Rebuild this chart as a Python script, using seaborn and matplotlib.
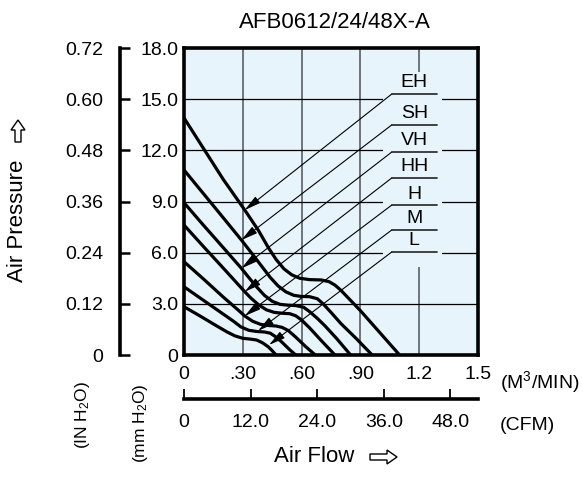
import numpy as np
import matplotlib
matplotlib.use("Agg")
import matplotlib.pyplot as plt
import matplotlib.patches as mpatches
import seaborn as sns

# Fan performance curves (x: air flow M3/MIN, y: pressure mmH2O)
eh_x = [0, .10, .20, .31, .38, .43, .47, .51, .55, .59, .64, .70, .74, .77, .80, .85, .90, 1.00, 1.10]
eh_y = [13.9, 12.1, 10.3, 8.5, 7.3, 6.3, 5.6, 5.05, 4.7, 4.5, 4.42, 4.4, 4.3, 4.1, 3.8, 3.2, 2.6, 1.3, 0]
sh_x = [0, .10, .20, .293, .35, .40, .44, .48, .52, .56, .60, .64, .68, .71, .75, .80, .88, .96]
sh_y = [10.85, 9.45, 8.05, 6.74, 5.9, 5.15, 4.55, 4.05, 3.7, 3.5, 3.43, 3.42, 3.3, 3.0, 2.5, 1.85, 0.95, 0]
vh_x = [0, .10, .20, .293, .33, .37, .41, .45, .49, .53, .57, .61, .64, .68, .72, .78, .85]
vh_y = [8.93, 7.6, 6.3, 5.08, 4.55, 4.0, 3.5, 3.15, 2.97, 2.92, 2.9, 2.8, 2.55, 2.15, 1.7, 0.95, 0]
hh_x = [0, .10, .20, .31, .34, .38, .42, .46, .50, .54, .57, .60, .64, .70, .77]
hh_y = [7.62, 6.35, 5.1, 3.71, 3.35, 2.95, 2.65, 2.5, 2.45, 2.42, 2.3, 2.05, 1.6, 0.85, 0]
h_x = [0, .10, .20, .27, .31, .35, .39, .43, .47, .50, .53, .57, .62, .67]
h_y = [5.47, 4.45, 3.4, 2.7, 2.29, 1.98, 1.8, 1.73, 1.7, 1.62, 1.45, 1.05, 0.5, 0]
m_x = [0, .10, .20, .25, .29, .33, .37, .41, .44, .47, .50, .54, .57]
m_y = [4.0, 3.2, 2.4, 2.0, 1.65, 1.45, 1.38, 1.35, 1.28, 1.05, 0.75, 0.3, 0]
l_x = [0, .08, .16, .22, .26, .30, .34, .37, .40, .43, .45, .47]
l_y = [2.83, 2.3, 1.75, 1.35, 1.12, 0.98, 0.93, 0.88, 0.72, 0.48, 0.25, 0]

speed_names = ["EH", "SH", "VH", "HH", "H", "M", "L"]
# where each label's leader arrow points on its curve
tip_x = [0.31, 0.293, 0.293, 0.31, 0.31, 0.378, 0.434]
tip_y = [8.5, 6.74, 5.08, 3.71, 2.29, 1.42, 0.59]

flow_ticks = [0, 0.3, 0.6, 0.9, 1.2, 1.5]
flow_labels = ["0", ".30", ".60", ".90", "1.2", "1.5"]
mm_ticks = [0, 3, 6, 9, 12, 15, 18]
mm_labels = ["0", "3.0", "6.0", "9.0", "12.0", "15.0", "18.0"]
in_ticks = [0, 0.12, 0.24, 0.36, 0.48, 0.60, 0.72]
in_labels = ["0", "0.12", "0.24", "0.36", "0.48", "0.60", "0.72"]
cfm_ticks = [0, 12, 24, 36, 48]
cfm_labels = ["0", "12.0", "24.0", "36.0", "48.0"]
cfm_max = 1.5 * 35.3147

sns.set_style("white")
plt.rcParams["font.family"] = ["Liberation Sans", "DejaVu Sans"]
for key in ["text.color", "xtick.color", "ytick.color", "axes.labelcolor"]:
    plt.rcParams[key] = "black"

W, H = 583, 484
fig = plt.figure(figsize=(W / 100, H / 100), dpi=100)

def box(l, t, r, b):
    return [l / W, 1 - b / H, (r - l) / W, (b - t) / H]

bg = "#e8f4fb"
ax = fig.add_axes(box(184, 48, 478, 355))
ax.set_facecolor(bg)
ax.set_xlim(0, 1.5)
ax.set_ylim(0, 18)
ax.set_xticks(flow_ticks, flow_labels)
ax.set_yticks(mm_ticks, mm_labels)
ax.tick_params(length=0, labelsize=14)
ax.tick_params(axis="y", pad=4)
ax.tick_params(axis="x", pad=8)
ax.set_axisbelow(True)
ax.yaxis.grid(True, color="black", lw=0.9)
ax.xaxis.grid(True, color="#5a5f64", lw=1.2)
for s in ax.spines.values():
    s.set_visible(True)
    s.set_color("black")
    s.set_linewidth(2.6)

# gap in the grid behind the labels
ax.add_patch(mpatches.Rectangle((1.013, 5.18), 0.305, 11.4, facecolor=bg,
                                edgecolor="none", zorder=1))

curves = [(eh_x, eh_y), (sh_x, sh_y), (vh_x, vh_y), (hh_x, hh_y),
          (h_x, h_y), (m_x, m_y), (l_x, l_y)]
for cx, cy in curves:
    sns.lineplot(x=cx, y=cy, ax=ax, color="black", lw=2.3, sort=False,
                 estimator=None, zorder=3)

label_y = [15.3, 13.49, 11.9, 10.38, 8.79, 7.33, 6.04]
for name, ly, tx, ty in zip(speed_names, label_y, tip_x, tip_y):
    ax.plot([1.06, 1.29], [ly, ly], color="#333333", lw=1.3, zorder=4)
    ax.text(1.175, ly + 0.15, name, ha="center", va="bottom", fontsize=14, zorder=5)
    ax.annotate("", xy=(tx, ty), xytext=(1.06, ly),
                arrowprops=dict(arrowstyle="-|>,head_length=0.9,head_width=0.22",
                                color="black", lw=0.8, shrinkA=0, shrinkB=0,
                                mutation_scale=11), zorder=4)

# inch of water axis (bracket)
ax_in = fig.add_axes(box(120, 48, 121, 355))
ax_in.set_facecolor("none")
ax_in.set_ylim(0, 0.72)
ax_in.set_yticks(in_ticks, in_labels)
ax_in.set_xticks([])
for k in ["top", "right", "bottom"]:
    ax_in.spines[k].set_visible(False)
ax_in.spines["left"].set_linewidth(2.6)
ax_in.spines["left"].set_color("black")
ax_in.tick_params(axis="y", left=True, direction="in", length=7, width=1.8,
                  pad=12, labelsize=14, color="black")

# CFM axis
ax_cfm = fig.add_axes(box(184, 398, 478, 399))
ax_cfm.set_facecolor("none")
ax_cfm.set_xlim(0, cfm_max)
ax_cfm.set_xticks(cfm_ticks, cfm_labels)
ax_cfm.set_yticks([])
for k in ["top", "right", "left"]:
    ax_cfm.spines[k].set_visible(False)
ax_cfm.spines["bottom"].set_linewidth(2.6)
ax_cfm.spines["bottom"].set_color("black")
ax_cfm.tick_params(axis="x", bottom=True, direction="in", length=7, width=1.3,
                   pad=11, labelsize=14, color="black")

fig.text(335 / W, 1 - 23 / H, "AFB0612/24/48X-A", ha="center", va="center", fontsize=16)
fig.text(18 / W, 1 - 221 / H, "Air Pressure", rotation=90, ha="center", va="center", fontsize=16)
fig.text(82 / W, 1 - 415 / H, r"(IN H$\mathregular{_2}$O)", rotation=90, ha="center",
         va="center", fontsize=12.5)
fig.text(140 / W, 1 - 423 / H, r"(mm H$\mathregular{_2}$O)", rotation=90, ha="center",
         va="center", fontsize=12.5)
fig.text(500 / W, 1 - 382 / H, r"(M$\mathregular{^3}$/MIN)", ha="left", va="center", fontsize=14)
fig.text(500 / W, 1 - 425 / H, "(CFM)", ha="left", va="center", fontsize=14)
fig.text(314 / W, 1 - 457 / H, "Air Flow", ha="center", va="center", fontsize=16)

# hollow arrows next to the axis titles (inches from the lower left corner)
arrow_kw = dict(width=0.06, head_width=0.14, head_length=0.10, length_includes_head=True,
                facecolor="white", edgecolor="black", lw=1.0,
                transform=fig.dpi_scale_trans)
fig.patches.append(mpatches.FancyArrow(3.70, 0.27, 0.27, 0, **arrow_kw))
fig.patches.append(mpatches.FancyArrow(0.18, 3.42, 0, 0.22, **arrow_kw))

fig.savefig("out.png", dpi=100)
